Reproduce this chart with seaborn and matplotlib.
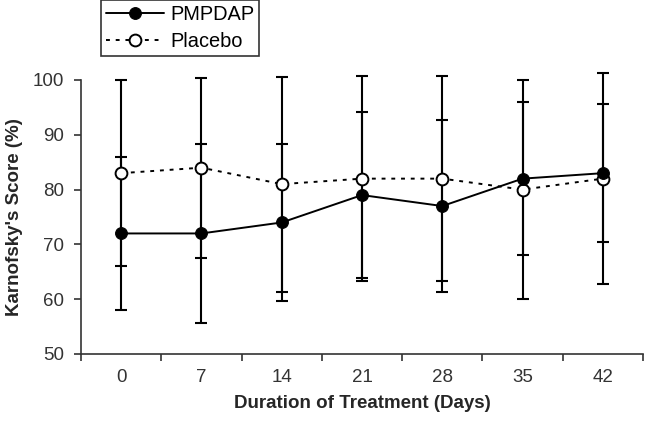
import numpy as np
import pandas as pd
import matplotlib
matplotlib.use("Agg")
import matplotlib.pyplot as plt
from matplotlib.ticker import FixedLocator
import seaborn as sns

days = ["0", "7", "14", "21", "28", "35", "42"]
pmpdap = [72, 72, 74, 79, 77, 82, 83]
pmpdap_sd = [14, 16.3, 14.3, 15.2, 15.7, 13.9, 12.6]
placebo = [83, 84, 81, 82, 82, 80, 82]
placebo_sd = [17, 16.4, 19.6, 18.7, 18.7, 20, 19.3]

sns.set_theme(style="white", rc={
    "axes.edgecolor": "#333333",
    "axes.linewidth": 1.2,
    "xtick.color": "#333333",
    "ytick.color": "#333333",
    "text.color": "black",
})
plt.rcParams["font.family"] = ["Liberation Sans", "DejaVu Sans"]

pos = np.arange(len(days))
df = pd.DataFrame({
    "pos": np.concatenate([pos, pos]),
    "score": pmpdap + placebo,
    "group": ["PMPDAP"] * len(days) + ["Placebo"] * len(days),
})

fig = plt.figure(figsize=(6.45, 4.24), dpi=100)
ax = fig.add_axes([81 / 645, 1 - 354 / 424, (643 - 81) / 645, (354 - 80) / 424])

# error bars first so markers sit on top
ax.errorbar(pos, pmpdap, yerr=pmpdap_sd, fmt="none", ecolor="black",
            elinewidth=1.5, capsize=4, capthick=1.5, zorder=2, clip_on=False)
ax.errorbar(pos, placebo, yerr=placebo_sd, fmt="none", ecolor="black",
            elinewidth=1.5, capsize=4, capthick=1.5, zorder=2, clip_on=False)

sns.lineplot(data=df[df.group == "PMPDAP"], x="pos", y="score", ax=ax,
             color="black", lw=1.4, marker="o", markersize=8.5,
             markerfacecolor="black", markeredgecolor="black",
             label="PMPDAP", zorder=4, clip_on=False)
sns.lineplot(data=df[df.group == "Placebo"], x="pos", y="score", ax=ax,
             color="black", lw=1.4, linestyle=(0, (2, 3)), marker="o",
             markersize=8.5, markerfacecolor="white", markeredgecolor="black",
             markeredgewidth=1.4, label="Placebo", zorder=3, clip_on=False)

ax.set_xlim(-0.5, len(days) - 0.5)
ax.set_ylim(50, 100)
ax.set_yticks([50, 60, 70, 80, 90, 100])
ax.set_xticks(pos)
ax.set_xticklabels(days)
ax.xaxis.set_minor_locator(FixedLocator(np.arange(-0.5, len(days), 1.0)))
ax.tick_params(axis="x", which="major", length=0, labelsize=13.5, pad=11)
ax.tick_params(axis="x", which="minor", length=5, width=1.2, direction="out", bottom=True)
ax.tick_params(axis="y", length=5, width=1.2, direction="out", left=True, labelsize=13.5, pad=7)

sns.despine(ax=ax)

ax.set_xlabel("Duration of Treatment (Days)", fontsize=13.5, fontweight="bold", labelpad=6)
ax.set_ylabel("Karnofsky's Score (%)", fontsize=13.5, fontweight="bold")
ax.yaxis.set_label_coords(-0.103, 0.5)

leg = ax.legend(loc="upper left", bbox_to_anchor=(101 / 645, 1.0),
                bbox_transform=fig.transFigure, borderaxespad=0,
                fontsize=14.4, frameon=True, fancybox=False, edgecolor="black",
                handlelength=2.9, handletextpad=0.3, borderpad=0.25,
                labelspacing=0.4)
leg.get_frame().set_linewidth(1.2)

fig.savefig("out.png", dpi=100)
